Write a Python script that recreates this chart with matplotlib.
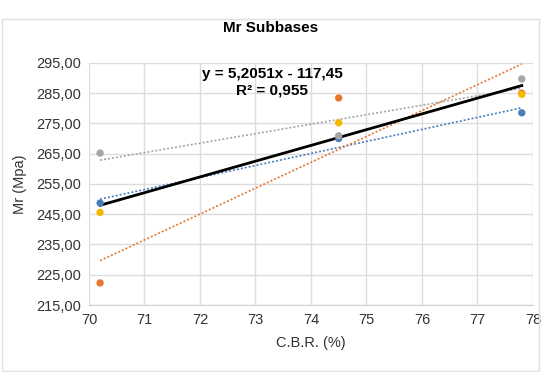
import numpy as np
import matplotlib
matplotlib.use("Agg")
import matplotlib.pyplot as plt
from matplotlib.ticker import FuncFormatter, FixedLocator, MultipleLocator

plt.rcParams['font.family'] = ['Liberation Sans Narrow', 'Liberation Sans', 'DejaVu Sans']

cbr = [70.2, 74.5, 77.8]
series_blue = [248.7, 270.0, 278.5]
series_orange = [222.3, 283.4, 285.0]
series_grey = [265.2, 270.9, 289.7]
series_yellow = [245.6, 275.2, 284.6]
y_ticks = [215, 225, 235, 245, 255, 265, 275, 285, 295]
eq_slope, eq_intercept = 5.2051, -117.45
eq_text = "y = 5,2051x - 117,45\nR² = 0,955"

colors = {"blue": "#4A7EBB", "orange": "#E8762D", "grey": "#A5A5A5", "yellow": "#F5B800"}

fig = plt.figure(figsize=(5.41, 3.72), dpi=100)
ax = fig.add_axes([0.1645, 0.180, 0.8205, 0.651])

x = np.array(cbr)
for vals, c in [(series_grey, colors["grey"]), (series_blue, colors["blue"]), (series_orange, colors["orange"])]:
    p = np.polyfit(x, vals, 1)
    xs = np.array([x.min(), x.max()])
    ax.plot(xs, np.polyval(p, xs), linestyle=(0, (1.2, 1.2)), color=c, lw=1.2, zorder=2)

xs = np.array([x.min(), x.max()])
ax.plot(xs, eq_slope * xs + eq_intercept, color="black", lw=2.0, zorder=3)

for vals, c in [(series_blue, colors["blue"]), (series_orange, colors["orange"]),
                (series_grey, colors["grey"]), (series_yellow, colors["yellow"])]:
    ax.scatter(x, vals, s=28, color=c, zorder=4, edgecolors='none')

ax.set_xlim(70, 78)
ax.set_ylim(y_ticks[0], y_ticks[-1])
ax.xaxis.set_major_locator(MultipleLocator(1))
ax.yaxis.set_major_locator(FixedLocator(y_ticks))
ax.yaxis.set_major_formatter(FuncFormatter(lambda v, p: f"{v:.2f}".replace(".", ",")))
ax.grid(True, color="#DCDCDC", lw=1.0)
ax.set_axisbelow(True)
for s in ["top", "right", "left"]:
    ax.spines[s].set_visible(False)
ax.spines["bottom"].set_color("#D0D0D0")
ax.tick_params(length=0, labelsize=10.5, colors="#333333", pad=6)
ax.set_xlabel("C.B.R. (%)", fontsize=10.5, color="#333333", labelpad=6)
ax.set_ylabel("Mr (Mpa)", fontsize=10.5, color="#333333", labelpad=6)
fig.text(0.5, 0.925, "Mr Subbases", ha="center", va="center", fontsize=11, fontweight="bold")
ax.text(73.3, 288.5, eq_text, ha="center", va="center", fontsize=11, fontweight="bold",
        linespacing=1.25, zorder=5)

border = plt.Rectangle((0.004, 0.004), 0.992, 0.944, transform=fig.transFigure, fill=False,
                       edgecolor="#E0E0E0", lw=1)
fig.patches.append(border)

fig.savefig("out.png", dpi=100)
